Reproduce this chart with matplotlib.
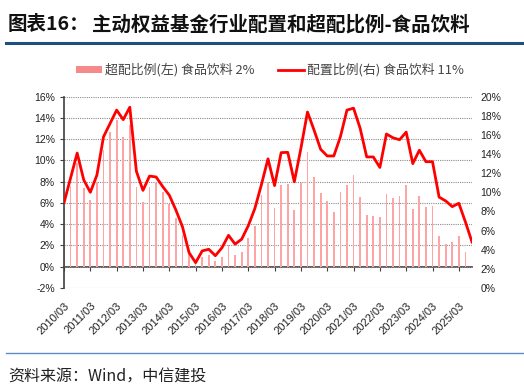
import numpy as np
import matplotlib
matplotlib.use("Agg")
import matplotlib.pyplot as plt
from matplotlib.lines import Line2D
from matplotlib.patches import Patch

plt.rcParams['font.family'] = ['Liberation Sans', 'Noto Sans CJK SC', 'DejaVu Sans']

# quarterly periods 2010/03 .. 2025/09
years = list(range(2010, 2026))
quarters = [f"{y}/{m:02d}" for y in years for m in (3, 6, 9, 12)][:63]
tick_labels = [f"{y}/03" for y in years]

# 配置比例 (right axis, %)
alloc = [8.9, 11.5, 14.1, 11.3, 10.0, 11.8, 15.8, 17.2, 18.6, 17.6, 18.9, 12.2,
         10.2, 11.7, 11.6, 10.6, 9.7, 8.15, 6.4, 3.7, 2.64, 3.87, 4.04, 3.37,
         4.2, 5.5, 4.58, 5.1, 6.5, 8.3, 10.8, 13.5, 10.7, 14.15, 14.18, 11.1,
         14.6, 18.4, 16.5, 14.5, 13.8, 13.8, 15.8, 18.6, 18.8, 16.7, 13.7, 13.7,
         12.6, 16.1, 15.7, 15.5, 16.3, 13.0, 14.4, 13.2, 13.2, 9.5, 9.1, 8.5,
         8.85, 6.9, 4.8]
# 超配比例 (left axis, %)
over = [5.5, 7.6, 9.8, 7.4, 6.3, 8.0, 11.0, 12.7, 13.8, 12.2, 13.3, 7.5,
        6.1, 7.5, 7.9, 7.0, 5.9, 4.55, 3.0, 1.2, 0.5, 0.9, 1.1, 0.55,
        0.95, 2.0, 1.1, 1.4, 2.7, 3.8, 6.7, 8.0, 5.5, 7.7, 7.8, 5.3,
        7.9, 10.8, 8.4, 6.9, 6.2, 5.1, 7.0, 7.7, 8.6, 6.6, 4.9, 4.8,
        4.7, 6.8, 6.5, 6.65, 7.7, 5.4, 6.65, 5.65, 5.75, 2.9, 2.1, 2.35,
        2.9, 1.35, np.nan]

legend_over = "超配比例(左) 食品饮料 2%"
legend_alloc = "配置比例(右) 食品饮料 11%"

fig = plt.figure(figsize=(5.24, 3.91), dpi=100)
ax = fig.add_axes([64/524, 1-287.9/391, (472-64)/524, (287.9-96.7)/391])
ax2 = ax.twinx()

x = np.arange(len(quarters))
bars = ax.bar(x, over, width=0.26, color='#ffa4a4', zorder=2, label=legend_over)
line, = ax2.plot(x, alloc, color='#ff0000', lw=2.0, zorder=3, label=legend_alloc)

ax.set_xlim(0, len(quarters)-1)
ax.set_ylim(-2, 16)
ax.set_yticks(np.arange(-2, 17, 2))
ax.set_yticklabels([f"{v}%" for v in range(-2, 17, 2)])
ax2.set_ylim(0, 20)
ax2.set_yticks(np.arange(0, 21, 2))
ax2.set_yticklabels([f"{v}%" for v in range(0, 21, 2)])

ax.grid(axis='y', color='#8c8c8c', linestyle=(0, (1, 1)), lw=0.8, zorder=0)
ax.set_axisbelow(True)

for s in ['top', 'right', 'bottom']:
    ax.spines[s].set_visible(False)
for s in ['top', 'right', 'left', 'bottom']:
    ax2.spines[s].set_visible(False)
ax.spines['left'].set_color('#404040')
ax.spines['left'].set_linewidth(1.2)

ax.set_xticks(x[::4])
ax.set_xticklabels(tick_labels, rotation=45, ha='right', va='top',
                   rotation_mode='anchor', fontsize=8, color='#222222')
ax.tick_params(axis='x', length=0, pad=9)
ax.tick_params(axis='y', labelsize=7.5, length=3, color='#404040', labelcolor='#222222')
ax2.tick_params(axis='y', labelsize=7.5, length=0, pad=6, labelcolor='#222222')

sec = ax.secondary_xaxis(2/18)
sec.set_xticks(x[::4])
sec.set_xticklabels([])
sec.spines['bottom'].set_color('#404040')
sec.spines['bottom'].set_linewidth(1.2)
sec.tick_params(axis='x', length=3, color='#404040', direction='out')

over_handle = Patch(facecolor='#f48a8a', edgecolor='none')
leg = fig.legend(handles=[over_handle, line], labels=[legend_over, legend_alloc],
                 loc='center', bbox_to_anchor=(270/524, 1-70/391), ncol=2,
                 frameon=False, handlelength=2.0, handleheight=0.5,
                 handletextpad=0.25, columnspacing=1.8,
                 prop={'family': ['Noto Sans CJK SC'], 'size': 9.3})
for t in leg.get_texts():
    t.set_color('#444444')

fig.text(8/524, 1-25/391, "图表16：", fontsize=14, fontweight='bold',
         family=['Noto Sans CJK SC'], va='center', ha='left', color='#111111')
fig.text(92/524, 1-25/391, "主动权益基金行业配置和超配比例-食品饮料", fontsize=14,
         fontweight='bold', family=['Noto Sans CJK SC'], va='center', ha='left',
         color='#111111')
fig.add_artist(Line2D([6/524, 1], [1-42.5/391]*2, color='#1f4e82', lw=2.2))
fig.add_artist(Line2D([6/524, 1], [1-353/391]*2, color='#5b8fc8', lw=1.0))
fig.text(8/524, 1-377/391, "资料来源：Wind，中信建投", fontsize=11.5,
         family=['Noto Sans CJK SC'], style='italic', va='center', ha='left',
         color='#222222')

fig.savefig('out.png', dpi=100)
